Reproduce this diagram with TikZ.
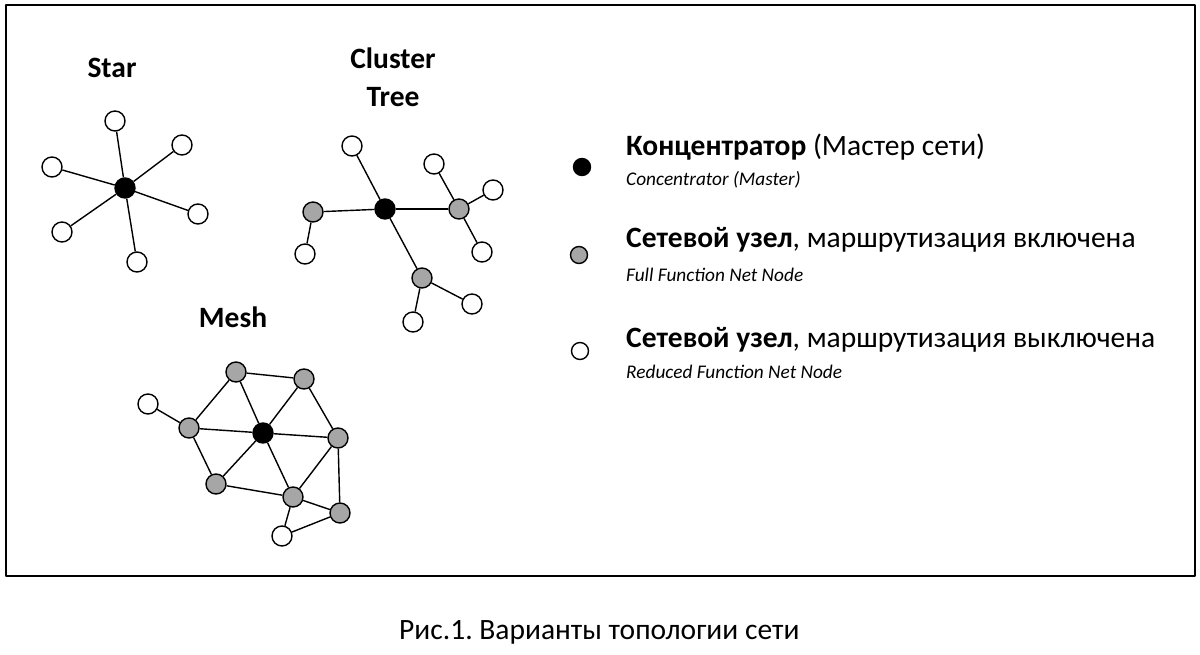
\documentclass[tikz,border=0pt]{standalone}
\usepackage{fontspec}
\setmainfont{Carlito}
\usepackage{tikz}
\usetikzlibrary{positioning}
\definecolor{netgrey}{rgb}{0.65,0.65,0.65}
\frenchspacing

\begin{document}
\begin{tikzpicture}[x=1pt,y=-1pt,line join=bevel,
  hub/.style={circle,draw,line width=1.4pt,fill=black,minimum size=20pt,inner sep=0pt},
  ffd/.style={circle,draw,line width=1.4pt,fill=netgrey,minimum size=20pt,inner sep=0pt},
  rfd/.style={circle,draw,line width=1.4pt,fill=white,minimum size=20pt,inner sep=0pt},
  key/.style={minimum size=17pt},
  link/.style={line width=1.4pt},
  title/.style={font=\fontsize{29.5}{38}\selectfont\bfseries,align=center},
  keytext/.style={anchor=base west,inner sep=0pt,font=\fontsize{29.5}{34}\selectfont},
  keysub/.style={anchor=base west,inner sep=0pt,font=\fontsize{19.3}{23}\selectfont\itshape}]
\useasboundingbox (0,0) rectangle (1200,655);
%% frame
\draw [line width=2pt] (6,5) rectangle (1195,576);
%%
%% Star
  \node [title,anchor=base] (starT) at (112,78) {Star};
  % Node: star hub
  \node [hub] (s0) at (125,188) {};
  % Node: star leaves
  \node [rfd] (s1) at (115,121) {};
  \node [rfd] (s2) at (182,145) {};
  \node [rfd] (s3) at (52,167) {};
  \node [rfd] (s4) at (198,214) {};
  \node [rfd] (s5) at (62,232) {};
  \node [rfd] (s6) at (137,262) {};
  % Edge: hub -- leaves
  \foreach \i in {1,...,6}
    \draw [link] (s0) -- (s\i);
%%
%% Cluster Tree
  \node [title,anchor=north] (treeT) at (393,44) {Cluster\\Tree};
  % Node: tree hub
  \node [hub] (t0) at (385,209) {};
  % Node: routers
  \node [ffd] (tL) at (313,212) {};
  \node [ffd] (tR) at (459,209) {};
  \node [ffd] (tB) at (422,278) {};
  % Node: end devices
  \node [rfd] (tL1) at (305,254) {};
  \node [rfd] (tT) at (352,146) {};
  \node [rfd] (tR1) at (434,164) {};
  \node [rfd] (tR2) at (493,190) {};
  \node [rfd] (tR3) at (482,252) {};
  \node [rfd] (tB1) at (413,322) {};
  \node [rfd] (tB2) at (472,304) {};
  % Edge: tree links
  \draw [link] (t0) -- (tL);
  \draw [link] (t0) -- (tT);
  \draw [link] (t0) -- (tR);
  \draw [link] (t0) -- (tB);
  \draw [link] (tL) -- (tL1);
  \draw [link] (tR) -- (tR1);
  \draw [link] (tR) -- (tR2);
  \draw [link] (tR) -- (tR3);
  \draw [link] (tB) -- (tB1);
  \draw [link] (tB) -- (tB2);
%%
%% Mesh
  \node [title,anchor=base] (meshT) at (233,327) {Mesh};
  % Node: mesh hub
  \node [hub] (m0) at (263,433) {};
  % Node: routers
  \node [ffd] (m1) at (236,372) {};
  \node [ffd] (m2) at (304,379) {};
  \node [ffd] (m3) at (189,428) {};
  \node [ffd] (m4) at (338,438) {};
  \node [ffd] (m5) at (216,484) {};
  \node [ffd] (m6) at (293,497) {};
  \node [ffd] (m7) at (340,513) {};
  % Node: end devices
  \node [rfd] (mw1) at (148,404) {};
  \node [rfd] (mw2) at (282,536) {};
  % Edge: hub -- routers
  \foreach \i in {1,...,6}
    \draw [link] (m0) -- (m\i);
  % Edge: ring
  \draw [link] (m1) -- (m2);
  \draw [link] (m1) -- (m3);
  \draw [link] (m2) -- (m4);
  \draw [link] (m3) -- (m5);
  \draw [link] (m5) -- (m6);
  \draw [link] (m6) -- (m4);
  \draw [link] (m4) -- (m7);
  \draw [link] (m6) -- (m7);
  \draw [link] (m3) -- (mw1);
  \draw [link] (m6) -- (mw2);
  \draw [link] (mw2) -- (m7);
%%
%% Legend
  \node [hub,key] (kHub) at (582,167) {};
  \node [keytext] (kHubT) at (626,156) {\textbf{Концентратор} (Мастер сети)};
  \node [keysub] (kHubS) at (626,186) {Concentrator (Master)};
  \node [ffd,key] (kFfd) at (579,255) {};
  \node [keytext] (kFfdT) at (626,248) {\textbf{Сетевой узел}, маршрутизация включена};
  \node [keysub] (kFfdS) at (626,281) {Full Function Net Node};
  \node [rfd,key] (kRfd) at (580,351) {};
  \node [keytext] (kRfdT) at (626,347) {\textbf{Сетевой узел}, маршрутизация выключена};
  \node [keysub] (kRfdS) at (626,378) {Reduced Function Net Node};
%%
%% Caption
  \node [keytext] (cap) at (399,639) {Рис.1. Варианты топологии сети};
%
\end{tikzpicture}
\end{document}
